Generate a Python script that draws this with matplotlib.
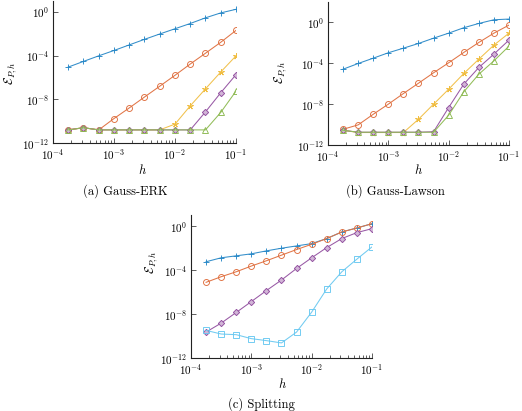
import numpy as np
import matplotlib
matplotlib.use("Agg")
import matplotlib.pyplot as plt
import matplotlib.ticker as mticker
import matplotlib.colors as mcolors

plt.rcParams["font.family"] = "cmr10"
plt.rcParams["mathtext.fontset"] = "cm"
plt.rcParams["axes.formatter.use_mathtext"] = True
plt.rcParams["axes.unicode_minus"] = False

# step sizes (shared by all panels)
h = [1.778e-4, 3.162e-4, 5.623e-4, 1.0e-3, 1.778e-3, 3.162e-3,
     5.623e-3, 1.0e-2, 1.778e-2, 3.162e-2, 5.623e-2, 1.0e-1]

# log10 of the error
# (a) Gauss-ERK
erk_s1 = [-5.05, -4.53, -4.02, -3.53, -3.02, -2.51, -2.02, -1.54, -1.06, -0.54, -0.09, 0.24]
erk_s2 = [-10.8, -10.6, -10.8, -9.76, -8.79, -7.79, -6.80, -5.80, -4.77, -3.78, -2.78, -1.69]
erk_s3 = [-10.8, -10.6, -10.8, -10.8, -10.8, -10.8, -10.8, -10.27, -8.60, -7.04, -5.50, -4.02]
erk_s4 = [-10.8, -10.6, -10.8, -10.8, -10.8, -10.8, -10.8, -10.8, -10.8, -9.15, -7.40, -5.74]
erk_s5 = [-10.8, -10.6, -10.8, -10.8, -10.8, -10.8, -10.8, -10.8, -10.8, -10.8, -9.20, -7.25]

# (b) Gauss-Lawson
law_s1 = [-4.58, -4.02, -3.50, -2.97, -2.52, -2.06, -1.54, -1.05, -0.52, -0.10, 0.26, 0.33]
law_s2 = [-10.46, -10.03, -8.99, -8.00, -6.96, -5.95, -4.93, -3.95, -2.94, -1.96, -1.05, -0.26]
law_s3 = [-10.56, -10.78, -10.78, -10.78, -10.78, -9.48, -8.00, -6.54, -5.00, -3.60, -2.22, -1.05]
law_s4 = [-10.56, -10.75, -10.75, -10.75, -10.75, -10.75, -10.70, -8.33, -6.05, -4.41, -3.10, -1.73]
law_s5 = [-10.56, -10.75, -10.75, -10.75, -10.75, -10.75, -10.75, -9.08, -6.80, -5.07, -3.76, -2.32]

# (c) Splitting
spl_s1 = [-3.25, -2.89, -2.71, -2.53, -2.26, -2.02, -1.81, -1.60, -1.14, -0.54, -0.18, 0.21]
spl_s2 = [-5.12, -4.61, -4.16, -3.64, -3.16, -2.65, -2.14, -1.66, -1.14, -0.54, -0.18, 0.21]
spl_s4 = [-9.64, -8.83, -7.86, -6.87, -5.87, -4.91, -3.86, -2.89, -1.96, -1.14, -0.60, -0.24]
spl_s6 = [-9.49, -9.82, -9.88, -10.24, -10.42, -10.63, -9.64, -7.83, -5.72, -4.16, -3.01, -1.90]

BLUE, ORANGE, YELLOW = "#0072BD", "#D95319", "#EDB120"
PURPLE, GREEN, CYAN = "#7E2F8E", "#77AC30", "#4DBEEE"

STYLE = {
    "s1": dict(color=BLUE, marker="+", ms=5, fill=None),
    "s2": dict(color=ORANGE, marker="o", ms=4.3, fill="none"),
    "s3": dict(color=YELLOW, marker=(5, 2, 0), ms=4.5, fill=None),
    "s4": dict(color=PURPLE, marker="D", ms=3.2, fill="tint"),
    "s5": dict(color=GREEN, marker="^", ms=4.3, fill="none"),
    "s6": dict(color=CYAN, marker="s", ms=4.0, fill="none"),
}

W, H = 522, 411


def _tint(c, a=0.35):
    r, g, b = mcolors.to_rgb(c)
    return (1 - a + a * r, 1 - a + a * g, 1 - a + a * b)


def _axes(fig, left, right, top, bottom):
    return fig.add_axes([left / W, (H - bottom) / H, (right - left) / W, (bottom - top) / H])


def _plot(ax, key, logy):
    st = STYLE[key]
    c = st["color"]
    mfc = st["fill"]
    if mfc == "tint":
        mfc = _tint(c)
    elif mfc is None:
        mfc = c
    ax.plot(h, 10.0 ** np.array(logy), color=_tint(c, 0.8), lw=0.75,
            marker=st["marker"], ms=st["ms"], mew=0.65,
            mfc=mfc, mec=_tint(c, 0.85))


def _style(ax, ymax):
    ax.set_xscale("log"); ax.set_yscale("log")
    ax.set_xlim(1e-4, 1e-1); ax.set_ylim(1e-12, ymax)
    for s in ("top", "right"):
        ax.spines[s].set_visible(False)
    for s in ("left", "bottom"):
        ax.spines[s].set_linewidth(0.8)
        ax.spines[s].set_color("#222222")
    ax.xaxis.set_major_locator(mticker.FixedLocator([1e-4, 1e-3, 1e-2, 1e-1]))
    ax.xaxis.set_minor_locator(mticker.LogLocator(base=10, subs=np.arange(2, 10)))
    ax.xaxis.set_minor_formatter(mticker.NullFormatter())
    ax.yaxis.set_major_locator(mticker.FixedLocator([1e-12, 1e-8, 1e-4, 1e0]))
    ax.yaxis.set_minor_locator(mticker.NullLocator())
    ax.tick_params(which="both", direction="in", labelsize=8, width=0.6, color="#444444")
    ax.tick_params(which="major", length=3.5, pad=3)
    ax.tick_params(which="minor", length=2.2)
    ax.tick_params(axis="x", which="both", top=False)
    ax.tick_params(axis="y", which="both", right=False)


fig = plt.figure(figsize=(W / 100, H / 100), dpi=100)

# (a) Gauss-ERK
ax1 = _axes(fig, 53, 236, 1, 143)
for key, ys in [("s1", erk_s1), ("s2", erk_s2), ("s3", erk_s3), ("s4", erk_s4), ("s5", erk_s5)]:
    _plot(ax1, key, ys)
_style(ax1, 1e1)

# (b) Gauss-Lawson
ax2 = _axes(fig, 328, 509, 2, 145)
for key, ys in [("s1", law_s1), ("s2", law_s2), ("s3", law_s3), ("s4", law_s4), ("s5", law_s5)]:
    _plot(ax2, key, ys)
_style(ax2, 1e2)

# (c) Splitting
ax3 = _axes(fig, 191, 372, 215, 358)
for key, ys in [("s1", spl_s1), ("s2", spl_s2), ("s4", spl_s4), ("s6", spl_s6)]:
    _plot(ax3, key, ys)
_style(ax3, 1e1)

# axis labels and captions placed in pixel coordinates
def _ftext(x, y, s, **kw):
    fig.text(x / W, 1 - y / H, s, ha="center", va="center", **kw)

for hx, hy in [(142, 170), (418, 170), (282, 384)]:
    _ftext(hx, hy, r"$h$", fontsize=9)
for lx, ly in [(11, 73), (281, 72), (152, 262)]:
    _ftext(lx, ly, r"$\mathcal{E}_{P,h}$", fontsize=9, rotation=90)

_ftext(125, 191, "(a) Gauss-ERK", fontsize=9)
_ftext(395, 191, "(b) Gauss-Lawson", fontsize=9)
_ftext(261, 404, "(c) Splitting", fontsize=9)

plt.savefig("out.png", dpi=100)
plt.close()
